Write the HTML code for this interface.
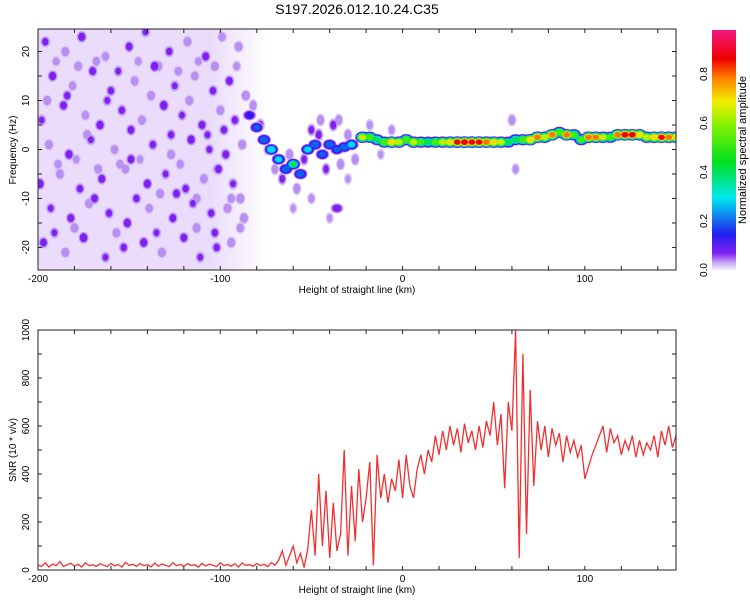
<!DOCTYPE html>
<html><head><meta charset="utf-8"><style>
body{margin:0;background:#fff;font-family:"Liberation Sans",sans-serif}
svg text{font-family:"Liberation Sans",sans-serif;fill:#000}
</style></head><body>
<svg id="c" width="750" height="600" viewBox="0 0 750 600" xmlns="http://www.w3.org/2000/svg">
<defs>
<linearGradient id="cb" x1="0" y1="1" x2="0" y2="0">
<stop offset="0" stop-color="#f4eefc"/><stop offset="0.03" stop-color="#c8a8f6"/><stop offset="0.07" stop-color="#8020f0"/>
<stop offset="0.15" stop-color="#2020f0"/><stop offset="0.3" stop-color="#00e8f0"/><stop offset="0.45" stop-color="#00e020"/>
<stop offset="0.6" stop-color="#80f000"/><stop offset="0.7" stop-color="#f0f000"/><stop offset="0.8" stop-color="#ff8000"/>
<stop offset="0.88" stop-color="#f00000"/><stop offset="1" stop-color="#f01880"/></linearGradient>
<linearGradient id="fade" x1="0" y1="0" x2="1" y2="0"><stop offset="0" stop-color="#eadcfa"/><stop offset="0.75" stop-color="#eadcfa"/><stop offset="1" stop-color="#eadcfa" stop-opacity="0"/></linearGradient>
<clipPath id="topclip"><rect x="38" y="29" width="638" height="241"/></clipPath>
<clipPath id="botclip"><rect x="38" y="330" width="638" height="240"/></clipPath>
</defs>
<text x="357" y="14" font-size="14" text-anchor="middle">S197.2026.012.10.24.C35</text>
<g id="heat" clip-path="url(#topclip)"></g>
<g id="topaxes"></g>
<g id="line" clip-path="url(#botclip)"></g>
<g id="botaxes"></g>
<rect x="712" y="30" width="24" height="240" fill="url(#cb)"/>
<g id="cbticks"></g>
<text transform="translate(746,150) rotate(-90)" font-size="11" text-anchor="middle">Normalized spectral amplitude</text>
</svg>
<script>
const noiseX=[-196,-185,-176,-163,-150,-141,-128,-118,-108,-99,-90,
-192,-181,-170,-160,-147,-136,-125,-114,-104,-95,-86,
-198,-186,-174,-166,-154,-143,-131,-121,-110,-100,-92,
-194,-183,-171,-158,-149,-137,-127,-116,-106,-97,-88,
-199,-188,-177,-165,-152,-140,-130,-119,-109,-101,-93,
-193,-182,-172,-161,-151,-139,-126,-115,-105,-96,-87,
-197,-185,-175,-163,-153,-142,-132,-120,-111,-102,-94,
-190,-178,-168,-156,-145,-134,-123,-112,-103,-91,
-189,-179,-167,-155,-144,-133,-122,-113,-102,-89,
-195,-184,-173,-162,-149,-138,-127,-117,-107,-98,-89,
-191,-180,-169,-157,-146,-135,-124,-113,-103,-94];
const noiseF=[22,20,23,19,21,24,20,22,19,23,21,
15,13,16,12,14,17,13,15,12,14,11,
6,9,7,5,8,6,9,7,5,8,6,
1,-1,2,0,-2,1,-1,2,0,-1,1,
-7,-5,-8,-6,-4,-7,-5,-8,-6,-4,-7,
-12,-14,-11,-13,-15,-12,-14,-11,-13,-12,-14,
-19,-21,-18,-22,-20,-19,-21,-18,-22,-20,-19,
18,17,18,16,18,17,16,18,17,17,
-3,-2,-4,-3,-2,-9,-3,-10,-4,-16,
10,11,3,10,4,11,3,10,3,4,-10,
-17,-16,-10,-17,-10,-17,-9,-16,-17,-10];
const noiseA=[.12,.1,.14,.09,.13,.11,.12,.1,.13,.09,.1,
.14,.09,.13,.12,.1,.15,.11,.09,.12,.13,.1,
.11,.13,.09,.14,.12,.1,.15,.11,.13,.1,.12,
.1,.14,.11,.09,.13,.12,.1,.14,.11,.13,.1,
.15,.1,.12,.13,.09,.14,.11,.12,.1,.13,.11,
.11,.13,.1,.12,.14,.09,.13,.11,.12,.1,.1,
.13,.1,.15,.11,.12,.14,.1,.13,.11,.12,.1,
.08,.1,.09,.11,.08,.1,.09,.08,.1,.08,
.09,.08,.1,.09,.08,.1,.09,.1,.08,.09,
.1,.12,.1,.11,.13,.1,.12,.1,.11,.12,.1,
.11,.1,.13,.1,.12,.11,.13,.1,.12,.09];
const hazeX=[-82,-78,-74,-70,-66,-62,-58,-54,-50,-46,-42,-38,-34,-30,-26,-60,-50,-40,-30,-45,-35,-18,-12,-6,60,62];
const hazeF=[9,5,0,-4,-6,-1,-8,-2,4,3,-4,5,-3,3,-2,-12,-10,-14,-6,6,6,5,-1,4,6,-4];
const hazeA=[.1,.12,.1,.09,.12,.1,.1,.12,.12,.13,.12,.13,.1,.1,.1,.07,.08,.07,.07,.1,.1,.08,.07,.08,.1,.08];
const ridgeX=[-84,-80,-76,-72,-68,-64,-60,-56,-52,-48,-44,-40,-36,-32,-28,-36,
-22,-18,-14,-10,-6,-2,2,6,10,14,18,22,26,30,34,38,42,46,50,54,58,62,66,70,74,78,82,86,90,94,98,102,106,110,114,118,122,126,130,134,138,142,146,150];
const ridgeF=[7,4.5,2,0,-2,-4,-3,-5,0,1,-1,1,0,0.5,1,-12,
2.5,2.5,2,1.5,1.5,1.5,2,1.5,1.5,1.5,1.5,1.5,1.5,1.5,1.5,1.5,1.5,1.5,1.5,1.5,1.5,2,2,2,2.5,2.5,3,3.5,3,3,2,2.5,2.5,2.5,2.5,3,3,3,3,2.5,2.5,2.5,2.5,2.5];
const ridgeA=[.2,.25,.3,.4,.35,.3,.45,.3,.35,.3,.25,.3,.25,.3,.35,.15,
.7,.6,.5,.6,.8,.7,.6,.7,.6,.5,.6,.7,.75,.9,.95,.9,.9,.85,.8,.7,.5,.5,.6,.8,.85,.7,.85,.6,.85,.6,.55,.85,.85,.7,.6,.85,.95,.95,.8,.7,.8,.9,.85,.8];
const snrX0=-200, snrStep=2;
const snrVals=[20,15,30,12,25,18,35,14,22,28,16,24,12,30,18,22,15,26,20,14,
28,17,23,12,32,19,24,15,27,18,22,13,29,16,25,20,14,31,18,23,
15,27,19,22,12,28,17,24,20,14,30,18,23,16,26,12,29,19,22,15,
27,18,24,14,31,20,
40,80,20,60,100,30,70,10,90,
250,60,400,100,330,50,280,80,150,
500,60,350,120,420,200,300,450,20,480,
300,400,280,380,330,
460,300,480,350,300,420,480,400,500,450,
560,480,580,500,600,520,590,490,610,530,580,500,600,510,620,
560,700,520,650,340,700,580,
1000,50,900,150,750,350,
620,500,600,470,590,520,570,450,560,490,540,470,520,380,
430,480,520,560,600,490,590,530,560,480,540,500,560,470,540,480,530,500,560,470,580,520,600,510,560];
const xTickLabels=[-200,-100,0,100];
const fTickLabels=[-20,-10,0,10,20];
const snrTickLabels=[0,200,400,600,800,1000];
const cbTickLabels=[0.0,0.2,0.4,0.6,0.8];

const NS="http://www.w3.org/2000/svg";
const X=v=>38+(v+200)*(638/350);
const YF=f=>149.5-f*(241/49.2);
const YS=s=>570-s*0.24;
function mk(t,a,p){const e=document.createElementNS(NS,t);for(const k in a)e.setAttribute(k,a[k]);p.appendChild(e);return e;}
const levels=[0.03,0.06,0.1,0.15,0.22,0.3,0.4,0.5,0.6,0.7,0.8,0.88,0.95];
const lcol=["#dcc8f8","#b890f2","#8020f0","#3018f0","#1060f0","#00d8f0","#00e060","#40f000","#c0f000","#f0e000","#ff7000","#f00000","#f01880"];
const heat=document.getElementById('heat');
const base=mk('rect',{x:X(-200),y:29,width:X(-74)-X(-200),height:241,fill:'url(#fade)'},heat);


function blobs(xs,fs,as,sx,sf,name){
 for(let i=0;i<levels.length;i++){const L=levels[i];
  for(let j=0;j<xs.length;j++){const a=as[j];if(a<=L)continue;
   const k=1-0.6*(L/a);
   const e=mk('ellipse',{cx:X(xs[j]),cy:YF(fs[j]),rx:sx*k*1.823,ry:sf*k*4.9,fill:lcol[i]},heat);
   
   }}
}
blobs(noiseX,noiseF,noiseA,3.4,1.5,'noise-blob');
blobs(hazeX,hazeF,hazeA,3,1.6,'haze-blob');
blobs(ridgeX,ridgeF,ridgeA,4.2,1.25,'ridge-blob');

function axes(g,yfun,yt,minorStep,ymin,ymax,top,bot,name){
 const G=document.getElementById(g);
 const r=mk('rect',{x:38,y:top,width:638,height:bot-top,fill:'none',stroke:'#222','stroke-width':1},G);
 
 for(let v=-200;v<=150;v+=20){const x=X(v);mk('line',{x1:x,y1:top,x2:x,y2:top+4,stroke:'#222'},G);mk('line',{x1:x,y1:bot,x2:x,y2:bot-4,stroke:'#222'},G);}
 for(let v=ymin;v<=ymax;v+=minorStep){const y=yfun(v);mk('line',{x1:38,y1:y,x2:42,y2:y,stroke:'#222'},G);mk('line',{x1:676,y1:y,x2:672,y2:y,stroke:'#222'},G);}
 xTickLabels.forEach(v=>{const t=mk('text',{x:X(v),y:bot+12,'font-size':10,'text-anchor':'middle'},G);t.textContent=v;
  });
 yt.forEach(v=>{const y=yfun(v);const t=mk('text',{transform:`translate(29,${y}) rotate(-90)`,'font-size':10,'text-anchor':'middle'},G);t.textContent=v;
  });
 const xl=mk('text',{x:357,y:bot+23,'font-size':10,'text-anchor':'middle'},G);xl.textContent='Height of straight line (km)';
 
}
axes('topaxes',YF,fTickLabels,5,-20,20,29,270,'spectrogram');
axes('botaxes',YS,snrTickLabels,100,0,1000,330,570,'snr');
const t1=mk('text',{transform:'translate(16,150) rotate(-90)','font-size':10,'text-anchor':'middle'},document.getElementById('topaxes'));t1.textContent='Frequency (Hz)';

const t2=mk('text',{transform:'translate(16,450) rotate(-90)','font-size':10,'text-anchor':'middle'},document.getElementById('botaxes'));t2.textContent='SNR (10 * v/v)';

const pts=snrVals.map((s,i)=>X(snrX0+i*snrStep).toFixed(1)+','+YS(s).toFixed(1)).join(' ');
const pl=mk('polyline',{points:pts,fill:'none',stroke:'#f03030','stroke-width':1.3},document.getElementById('line'));


const cbG=document.getElementById('cbticks');
cbTickLabels.forEach(v=>{const y=270-v*240/0.98;const t=mk('text',{transform:`translate(707,${y}) rotate(-90)`,'font-size':10,'text-anchor':'middle'},cbG);t.textContent=v.toFixed(1);
 });
</script>
</body></html>
